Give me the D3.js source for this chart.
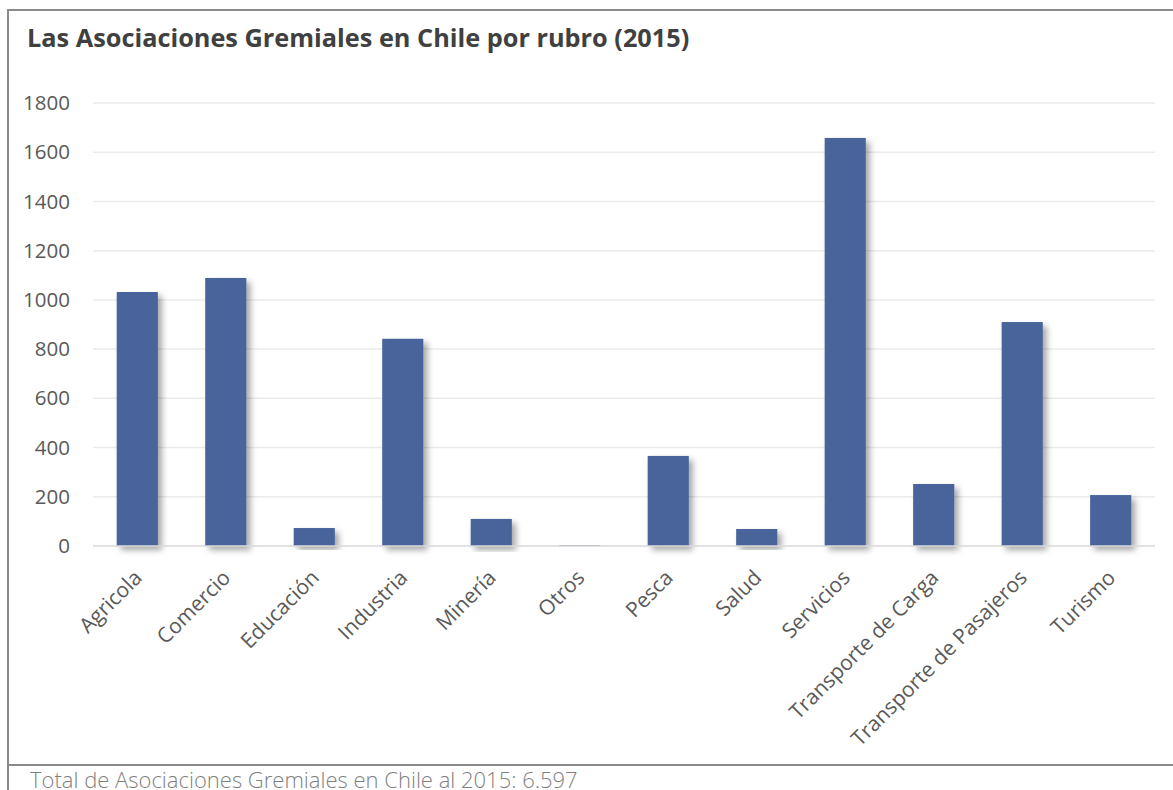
<!DOCTYPE html>
<html>
<head>
<meta charset="utf-8">
<script src="https://cdn.jsdelivr.net/npm/d3@7"></script>
<style>
  html, body { margin: 0; padding: 0; background: #fff; }
  svg { display: block; }
</style>
</head>
<body>
<div id="chart"></div>
<script>
const rubros = [
  "Agricola", "Comercio", "Educación", "Industria", "Minería", "Otros",
  "Pesca", "Salud", "Servicios", "Transporte de Carga",
  "Transporte de Pasajeros", "Turismo",
];
const asociaciones = [1032, 1089, 73, 842, 110, 3, 366, 69, 1658, 252, 910, 207];
const yTicks = [0, 200, 400, 600, 800, 1000, 1200, 1400, 1600, 1800];

const title = "Las Asociaciones Gremiales en Chile por rubro (2015)";
const footer = "Total de Asociaciones Gremiales en Chile al 2015: 6.597";

const width = 1173;
const height = 790;
const margin = { top: 103, right: 18, bottom: 244, left: 93 };
const innerWidth = width - margin.left - margin.right;
const innerHeight = height - margin.top - margin.bottom;

const svg = d3
  .select("#chart")
  .append("svg")
  .attr("width", width)
  .attr("height", height);

const defs = svg.append("defs");
const shadow = defs
  .append("filter")
  .attr("id", "bar-shadow")
  .attr("x", "-30%")
  .attr("y", "-10%")
  .attr("width", "170%")
  .attr("height", "130%");
shadow
  .append("feDropShadow")
  .attr("dx", 4)
  .attr("dy", 4)
  .attr("stdDeviation", 3)
  .attr("flood-color", "#000")
  .attr("flood-opacity", 0.35);

// frame
svg.append("line")
  .attr("x1", 8).attr("x2", 8).attr("y1", 9).attr("y2", height)
  .attr("stroke", "#8a8a8a").attr("stroke-width", 2);
svg.append("line")
  .attr("x1", 8).attr("x2", width).attr("y1", 10).attr("y2", 10)
  .attr("stroke", "#8a8a8a").attr("stroke-width", 2);
svg.append("line")
  .attr("x1", 8).attr("x2", width).attr("y1", 765).attr("y2", 765)
  .attr("stroke", "#8a8a8a").attr("stroke-width", 2);

svg.append("text")
  .attr("x", 27)
  .attr("y", 47)
  .attr("fill", "#404040")
  .attr("font-family", "'Open Sans', sans-serif")
  .attr("font-weight", 700)
  .attr("font-size", 25.3)
  .text(title);

svg.append("text")
  .attr("x", 30)
  .attr("y", 788)
  .attr("fill", "#7f7f7f")
  .attr("font-family", "'Open Sans', sans-serif")
  .attr("font-weight", 300)
  .attr("font-size", 22)
  .text(footer);

const g = svg
  .append("g")
  .attr("transform", `translate(${margin.left},${margin.top})`);

const x = d3
  .scaleBand()
  .domain(rubros)
  .range([0, innerWidth])
  .paddingInner(0.535)
  .paddingOuter(0.268);

const y = d3.scaleLinear().domain([0, 1800]).range([innerHeight, 0]);

// gridlines
g.append("g")
  .selectAll("line")
  .data(yTicks.filter((d) => d > 0))
  .join("line")
  .attr("x1", 0)
  .attr("x2", innerWidth)
  .attr("y1", (d) => y(d))
  .attr("y2", (d) => y(d))
  .attr("stroke", "#ebebeb")
  .attr("stroke-width", 1.5);

// y tick labels
const yAxis = g
  .append("g")
  .call(
    d3.axisLeft(y).tickValues(yTicks).tickFormat(d3.format("d")).tickSize(0).tickPadding(23)
  );
yAxis.select(".domain").remove();
yAxis
  .selectAll("text")
  .attr("fill", "#595959")
  .attr("font-family", "'Open Sans', sans-serif")
  .attr("font-size", 20.5);

// bars
g.append("g")
  .selectAll("rect")
  .data(rubros)
  .join("rect")
  .attr("x", (d) => x(d))
  .attr("width", x.bandwidth())
  .attr("y", (d, i) => y(asociaciones[i]))
  .attr("height", (d, i) => y(0) - y(asociaciones[i]))
  .attr("fill", "#49639b")
  .attr("filter", "url(#bar-shadow)");

// baseline
g.append("line")
  .attr("x1", 0)
  .attr("x2", innerWidth)
  .attr("y1", y(0))
  .attr("y2", y(0))
  .attr("stroke", "#d9d9d9")
  .attr("stroke-width", 1.5);

// x labels
const xAxis = g
  .append("g")
  .attr("transform", `translate(0,${innerHeight})`)
  .call(d3.axisBottom(x).tickSize(0).tickPadding(0));
xAxis.select(".domain").remove();
xAxis
  .selectAll("text")
  .attr("fill", "#595959")
  .attr("font-family", "'Open Sans', sans-serif")
  .attr("font-size", 21)
  .attr("text-anchor", "end")
  .attr("dy", null)
  .attr("y", 0)
  .attr("transform", "translate(6,33) rotate(-45)");
</script>
</body>
</html>
